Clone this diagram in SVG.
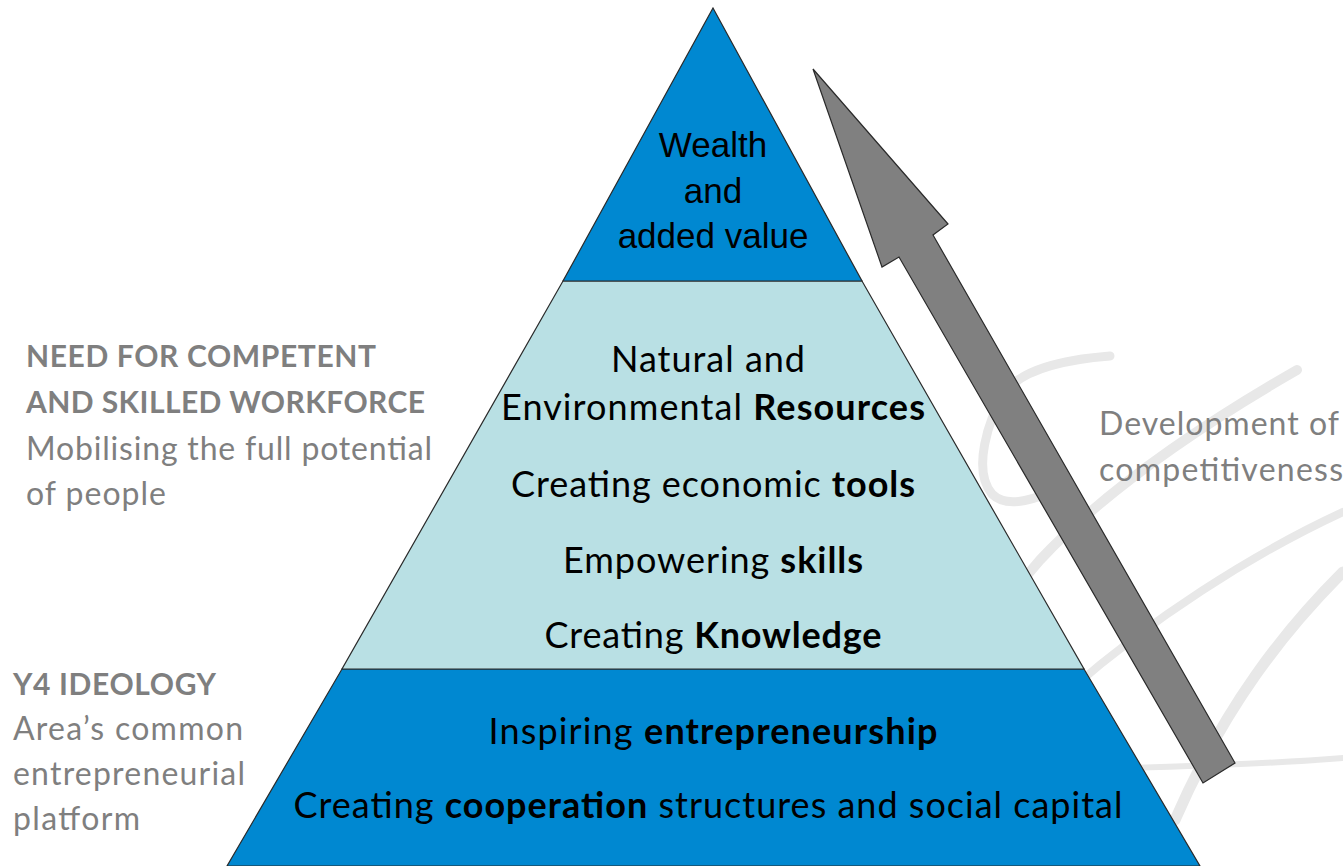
<svg xmlns="http://www.w3.org/2000/svg" width="1343" height="866" viewBox="0 0 1343 866">
<style>
.wm{fill:none;stroke:#e8e8e8;stroke-linecap:round;stroke-linejoin:round}
.lay{stroke:#2a2a2a;stroke-width:1.2}
.dark{fill:#0088d1}
.light{fill:#b9e0e4}
.arial{font-family:"Liberation Sans",Arial,sans-serif;font-size:35px;fill:#000;text-anchor:middle}
.cal{font-family:Lato,"Open Sans",sans-serif;font-size:36px;fill:#000;text-anchor:middle}
.gray{font-family:Lato,"Open Sans",sans-serif;font-size:32px;fill:#7f7f7f}
.gb{font-size:30px;font-weight:bold}
.b{font-weight:bold}
</style>
<rect width="1343" height="866" fill="#ffffff"/>
<g id="watermark">
<path class="wm" stroke-width="9" d="M1110,356 C1060,360 1022,370 1005,392 C988,420 972,470 992,494 C1008,510 1040,498 1062,486"/>
<path class="wm" stroke-width="10" d="M1297,370 C1210,420 1110,485 1040,560 C1010,595 990,620 975,640"/>
<path class="wm" stroke-width="8" d="M1343,512 C1250,555 1150,620 1070,690"/>
<path class="wm" stroke-width="11" d="M1343,572 C1285,630 1225,705 1175,820"/>
<path class="wm" stroke-width="6" d="M1130,768 C1200,766 1280,763 1343,758"/>
</g>
<g id="layer-bottom">
<polygon class="lay dark" points="342,669 1084,669 1200,866 227,866"/>
<text class="cal" x="713" y="744" textLength="449">Inspiring <tspan class="b">entrepreneurship</tspan></text>
<text class="cal" x="708" y="818" textLength="829">Creating <tspan class="b">cooperation</tspan> structures and social capital</text>
</g>
<g id="layer-middle">
<polygon class="lay light" points="563,281 862,281 1084,669 342,669"/>
<text class="cal" x="708" y="372" textLength="194">Natural and</text>
<text class="cal" x="713" y="420" textLength="424">Environmental <tspan class="b">Resources</tspan></text>
<text class="cal" x="713" y="497" textLength="404">Creating economic <tspan class="b">tools</tspan></text>
<text class="cal" x="713" y="573" textLength="300">Empowering <tspan class="b">skills</tspan></text>
<text class="cal" x="713" y="648" textLength="337">Creating <tspan class="b">Knowledge</tspan></text>
</g>
<g id="layer-top">
<polygon class="lay dark" points="713,8 862,281 563,281"/>
<text class="arial" x="713" y="157">Wealth</text>
<text class="arial" x="713" y="203">and</text>
<text class="arial" x="713" y="248">added value</text>
</g>
<g id="connectors">
<polygon fill="#808080" stroke="#2a2a2a" stroke-width="1.2" points="813,69 948,224 933,235 1235,763 1203,783 899,257 882,267"/>
</g>
<g id="label-workforce">
<text class="gray gb" x="26" y="367" textLength="350">NEED FOR COMPETENT</text>
<text class="gray gb" x="26" y="413" textLength="399">AND SKILLED WORKFORCE</text>
<text class="gray" x="26" y="460" textLength="406">Mobilising the full potential</text>
<text class="gray" x="26" y="505" textLength="140">of people</text>
</g>
<g id="label-ideology">
<text class="gray gb" x="13" y="695" textLength="203">Y4 IDEOLOGY</text>
<text class="gray" x="13" y="740" textLength="230">Area’s common</text>
<text class="gray" x="13" y="785" textLength="232">entrepreneurial</text>
<text class="gray" x="13" y="830" textLength="127">platform</text>
</g>
<g id="label-competitiveness">
<text class="gray" x="1099" y="435" textLength="240">Development of</text>
<text class="gray" x="1099" y="481" textLength="244">competitiveness</text>
</g>
</svg>
